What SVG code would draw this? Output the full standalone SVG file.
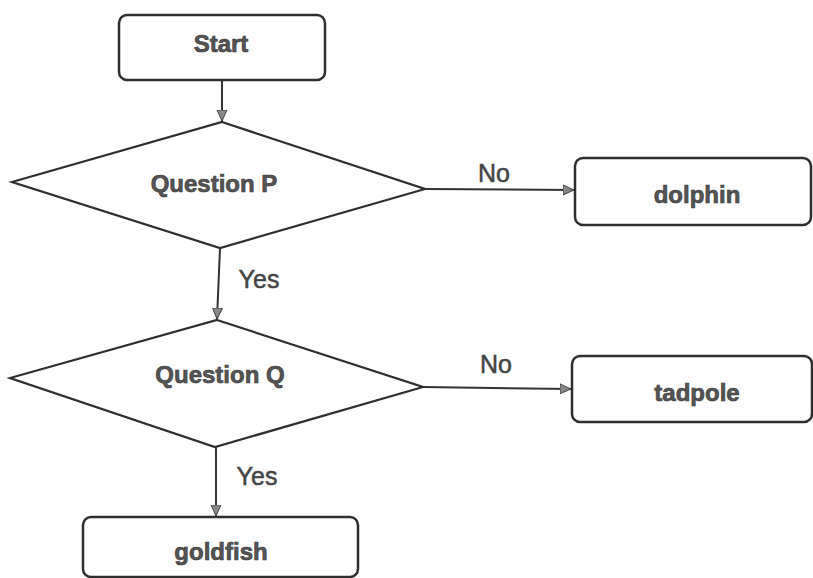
<svg xmlns="http://www.w3.org/2000/svg" width="813" height="578" viewBox="0 0 813 578">
<style>
.box{fill:#fff;stroke:#2e2e2e;stroke-width:2.5}
.dia{fill:#fff;stroke:#2e2e2e;stroke-width:2.2}
.lbl{font-family:"Liberation Sans",Arial,sans-serif;font-size:25px;fill:#444;text-anchor:middle;stroke:#444;stroke-width:0.5}
.node{font-family:"Liberation Sans",Arial,sans-serif;font-size:24px;font-weight:bold;fill:#555;text-anchor:middle;stroke:#333;stroke-width:0.6}
.conn{fill:none;stroke:#333;stroke-width:2;marker-end:url(#arr)}
</style>
<defs>
<marker id="arr" markerWidth="12" markerHeight="12" refX="11" refY="6" orient="auto" markerUnits="userSpaceOnUse">
<path d="M0,1 L11,6 L0,11 Z" fill="#888" stroke="#444" stroke-width="1"/>
</marker>
</defs>
<rect width="813" height="578" fill="#fff"/>
<g id="connectors">
<line class="conn" x1="222" y1="80" x2="222" y2="121"/>
<line class="conn" x1="220" y1="248" x2="217" y2="319"/>
<line class="conn" x1="216" y1="447" x2="216" y2="516"/>
<line class="conn" x1="425" y1="189" x2="574" y2="190"/>
<line class="conn" x1="423" y1="387" x2="571" y2="389"/>
<text class="lbl" x="494" y="182">No</text>
<text class="lbl" x="496" y="373">No</text>
<text class="lbl" x="259" y="288">Yes</text>
<text class="lbl" x="257" y="485">Yes</text>
</g>
<g id="start">
<rect class="box" x="119" y="15" width="206" height="65" rx="8"/>
<text class="node" x="221" y="52">Start</text>
</g>
<g id="questionP">
<polygon class="dia" points="222,122 425,189 220,248 12,182"/>
<text class="node" x="214" y="192">Question P</text>
</g>
<g id="dolphin">
<rect class="box" x="575" y="158" width="236" height="67" rx="8"/>
<text class="node" x="697" y="203">dolphin</text>
</g>
<g id="questionQ">
<polygon class="dia" points="217,320 423,387 215,447 10,378"/>
<text class="node" x="220" y="383">Question Q</text>
</g>
<g id="tadpole">
<rect class="box" x="572" y="356" width="240" height="66" rx="8"/>
<text class="node" x="697" y="401">tadpole</text>
</g>
<g id="goldfish">
<rect class="box" x="83" y="517" width="275" height="60" rx="8"/>
<text class="node" x="221" y="560">goldfish</text>
</g>
</svg>
